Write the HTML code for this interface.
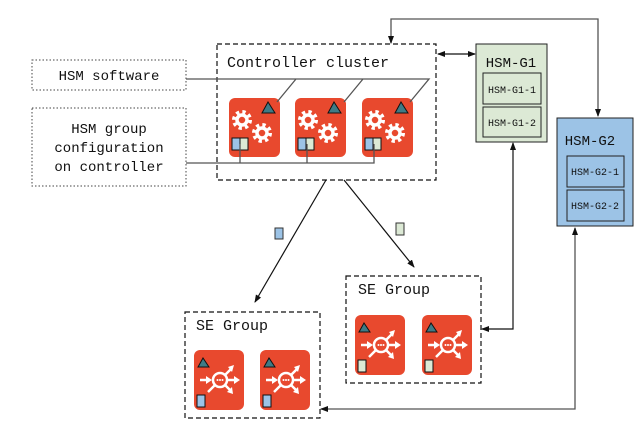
<!DOCTYPE html>
<html><head><meta charset="utf-8"><style>
html,body{margin:0;padding:0;background:#fff;}
svg{display:block;font-family:"Liberation Mono","DejaVu Sans Mono",monospace;}
</style></head><body>
<svg width="644" height="435" viewBox="0 0 644 435" xmlns="http://www.w3.org/2000/svg">
<defs>
<marker id="ar" markerWidth="8" markerHeight="8" refX="7" refY="4" orient="auto" markerUnits="userSpaceOnUse"><path d="M0,1 L8,4 L0,7z" fill="#111"/></marker>
<marker id="al" markerWidth="8" markerHeight="8" refX="1" refY="4" orient="auto" markerUnits="userSpaceOnUse"><path d="M8,1 L0,4 L8,7z" fill="#111"/></marker>
<g id="gear"><circle r="8" fill="none" stroke="#fff" stroke-width="4" stroke-dasharray="3.2 3.1"/><circle r="5" fill="none" stroke="#fff" stroke-width="3.5"/></g>
<g id="se">
<rect x="0" y="0" width="50" height="60" rx="6" fill="#e8492e"/>
<circle cx="26" cy="30" r="7" fill="none" stroke="#fff" stroke-width="2.5"/>
<circle cx="23.5" cy="30" r="1" fill="#fff"/><circle cx="26" cy="30" r="1" fill="#fff"/><circle cx="28.5" cy="30" r="1" fill="#fff"/>
<g stroke="#fff" stroke-width="2.5" fill="none">
<path d="M21,35 L14,42"/>
<path d="M6,30 L13,30"/><path d="M34,30 L40,30"/>
<path d="M31,25 L37,19"/><path d="M31,35 L36,40"/>
</g>
<g fill="#fff">
<path d="M12,26 L18,30 L12,34z"/><path d="M40,26 L46,30 L40,34z"/>
<path d="M34,17 L40,15 L38,22z"/><path d="M33,42 L39,44 L38,37z"/>
</g>
<path d="M4,17 L9,8 L15,17z" fill="#3e7b86" stroke="#111" stroke-width="1"/>
</g>
<g id="ctl">
<rect x="0" y="0" width="51" height="59" rx="6" fill="#e8492e"/>
<use href="#gear" x="13" y="22"/><use href="#gear" x="33" y="35"/>
<path d="M33,15 L39,4 L46,15z" fill="#3e7b86" stroke="#111" stroke-width="1"/>
</g>
</defs>
<rect x="32" y="60" width="154" height="30" fill="none" stroke="#444" stroke-width="1" stroke-dasharray="1.5 2"/>
<text x="109" y="80" font-size="14" text-anchor="middle" fill="#111">HSM software</text>
<rect x="32" y="108" width="154" height="78" fill="none" stroke="#444" stroke-width="1" stroke-dasharray="1.5 2"/>
<text x="109" y="133" font-size="14" text-anchor="middle" fill="#111">HSM group</text>
<text x="109" y="152" font-size="14" text-anchor="middle" fill="#111">configuration</text>
<text x="109" y="171" font-size="14" text-anchor="middle" fill="#111">on controller</text>
<rect x="217" y="44" width="219" height="136" fill="none" stroke="#111" stroke-width="1.2" stroke-dasharray="5 3"/>
<text x="227" y="67" font-size="15" fill="#111">Controller cluster</text>
<use href="#ctl" x="229" y="98"/><use href="#ctl" x="295" y="98"/><use href="#ctl" x="362" y="98"/>
<g stroke="#111" stroke-width="1">
<rect x="232" y="138" width="8" height="12" fill="#9cc3e6"/><rect x="240" y="138" width="8" height="12" fill="#dce9d5"/>
<rect x="298" y="138" width="8" height="12" fill="#9cc3e6"/><rect x="306" y="138" width="8" height="12" fill="#dce9d5"/>
<rect x="365" y="138" width="8" height="12" fill="#9cc3e6"/><rect x="373" y="138" width="8" height="12" fill="#dce9d5"/>
</g>
<path d="M186,79 L429,79 L410,102 M296,79 L277,102 M363,79 L344,102" fill="none" stroke="#555" stroke-width="1.3"/>
<path d="M186,163 L374,163 L374,144 M240,163 L240,144 M307,163 L307,144" fill="none" stroke="#555" stroke-width="1.3"/>
<path d="M391,43 L391,19 L598,19 L598,116" fill="none" stroke="#555" stroke-width="1.3" marker-start="url(#al)" marker-end="url(#ar)"/>
<line x1="438" y1="54" x2="475" y2="54" stroke="#111" stroke-width="1.2" marker-start="url(#al)" marker-end="url(#ar)"/>
<rect x="476" y="44" width="71" height="98" fill="#dce9d5" stroke="#222" stroke-width="1"/>
<text x="511" y="67" font-size="14" text-anchor="middle" fill="#111">HSM-G1</text>
<rect x="483" y="73" width="58" height="31" fill="none" stroke="#222"/>
<text x="512" y="93" font-size="10" text-anchor="middle" fill="#111">HSM-G1-1</text>
<rect x="483" y="107" width="58" height="30" fill="none" stroke="#222"/>
<text x="512" y="126" font-size="10" text-anchor="middle" fill="#111">HSM-G1-2</text>
<rect x="557" y="118" width="76" height="108" fill="#9cc3e6" stroke="#222" stroke-width="1"/>
<text x="590" y="145" font-size="14" text-anchor="middle" fill="#111">HSM-G2</text>
<rect x="567" y="156" width="57" height="31" fill="none" stroke="#222"/>
<text x="595" y="175" font-size="10" text-anchor="middle" fill="#111">HSM-G2-1</text>
<rect x="567" y="190" width="57" height="31" fill="none" stroke="#222"/>
<text x="595" y="209" font-size="10" text-anchor="middle" fill="#111">HSM-G2-2</text>
<line x1="326" y1="180" x2="255" y2="302" stroke="#111" stroke-width="1.2" marker-end="url(#ar)"/>
<line x1="344" y1="180" x2="414" y2="267" stroke="#111" stroke-width="1.2" marker-end="url(#ar)"/>
<rect x="275" y="228" width="8" height="11" fill="#9cc3e6" stroke="#333"/>
<rect x="396" y="223" width="8" height="12" fill="#dce9d5" stroke="#333"/>
<rect x="185" y="312" width="135" height="106" fill="none" stroke="#111" stroke-width="1.2" stroke-dasharray="5 3"/>
<text x="196" y="330" font-size="15" fill="#111">SE Group</text>
<use href="#se" x="194" y="350"/><use href="#se" x="260" y="350"/>
<rect x="197" y="395" width="8" height="12" fill="#9cc3e6" stroke="#111"/>
<rect x="263" y="395" width="8" height="12" fill="#9cc3e6" stroke="#111"/>
<rect x="346" y="276" width="135" height="107" fill="none" stroke="#111" stroke-width="1.2" stroke-dasharray="5 3"/>
<text x="358" y="294" font-size="15" fill="#111">SE Group</text>
<use href="#se" x="355" y="315"/><use href="#se" x="422" y="315"/>
<rect x="358" y="360" width="8" height="12" fill="#dce9d5" stroke="#111"/>
<rect x="425" y="360" width="8" height="12" fill="#dce9d5" stroke="#111"/>
<path d="M513,143 L513,329 L482,329" fill="none" stroke="#111" stroke-width="1.2" marker-start="url(#al)" marker-end="url(#ar)"/>
<path d="M575,228 L575,409 L321,409" fill="none" stroke="#555" stroke-width="1.3" marker-start="url(#al)" marker-end="url(#ar)"/>
</svg>
</body></html>
